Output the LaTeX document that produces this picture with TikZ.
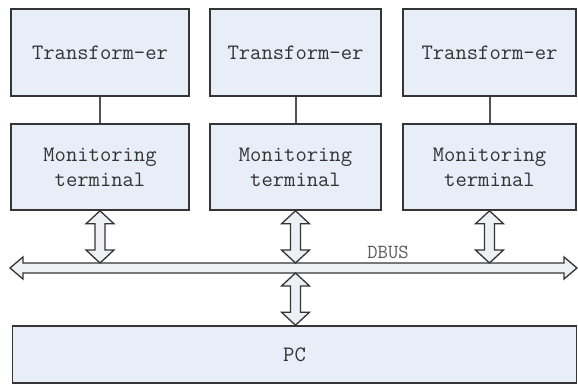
\documentclass[tikz,border=0pt]{standalone}
\usepackage{fontspec}
\usetikzlibrary{calc}
\definecolor{boxfill}{HTML}{E7EEF8}
\definecolor{boxline}{HTML}{353535}
\definecolor{txt}{HTML}{333333}
\definecolor{arrfill}{HTML}{EEF0F3}
\tikzset{
  blk/.style={draw=boxline, line width=1.6pt, fill=boxfill, inner sep=0pt,
    font=\ttfamily\fontsize{22}{25}\selectfont, text=txt, align=center},
  link/.style={draw=boxline!85, line width=2pt},
  arrowbox/.style={draw=boxline, line width=1.3pt, fill=arrfill, line join=miter},
  lbl/.style={font=\ttfamily\fontsize{20}{22}\selectfont, text=txt!80}
}
\newcommand\vdarrow[2]{%
  \path[arrowbox] let \p1=(#1), \p2=(#2) in
    (\x1,\y1) -- (\x1+14,\y1-13) -- (\x1+5,\y1-13) -- (\x1+5,\y2+13) -- (\x1+14,\y2+13)
    -- (\x1,\y2) -- (\x1-14,\y2+13) -- (\x1-5,\y2+13) -- (\x1-5,\y1-13) -- (\x1-14,\y1-13) -- cycle;}
\newcommand\hdarrow[2]{%
  \path[arrowbox] let \p1=(#1), \p2=(#2) in
    (\x1,\y1) -- (\x1+13,\y1+11) -- (\x1+13,\y1+5) -- (\x2-13,\y1+5) -- (\x2-13,\y1+11)
    -- (\x2,\y1) -- (\x2-13,\y1-11) -- (\x2-13,\y1-5) -- (\x1+13,\y1-5) -- (\x1+13,\y1-11) -- cycle;}
\begin{document}
\begin{tikzpicture}[x=1pt,y=-1pt]
\useasboundingbox[fill=white] (0,0) rectangle (578,385);
% transformers
\node[blk, minimum width=178pt, minimum height=87pt] (t1) at (100,52.5) {Transform-er};
\node[blk, minimum width=171pt, minimum height=87pt] (t2) at (295.5,52.5) {Transform-er};
\node[blk, minimum width=173pt, minimum height=87pt] (t3) at (489.5,52.5) {Transform-er};
% monitoring terminals
\node[blk, minimum width=178pt, minimum height=86pt] (m1) at (100,167) {Monitoring\\terminal};
\node[blk, minimum width=171pt, minimum height=86pt] (m2) at (295.5,167) {Monitoring\\terminal};
\node[blk, minimum width=173pt, minimum height=86pt] (m3) at (489.5,167) {Monitoring\\terminal};
% PC
\node[blk, minimum width=564pt, minimum height=57pt] (pc) at (294.5,354.5) {PC};
% links
\draw[link] (t1.south) -- (m1.north);
\draw[link] (t2.south) -- (m2.north);
\draw[link] (t3.south) -- (m3.north);
% bus
\coordinate (busL) at (10,268);
\coordinate (busR) at (577,268);
\coordinate (bt) at (0,263);
\coordinate (bb) at (0,273);
\hdarrow{busL}{busR}
\node[lbl] (dbus) at (388,252) {DBUS};
% double arrows
\vdarrow{m1.south}{m1.south |- bt}
\vdarrow{m2.south}{m2.south |- bt}
\vdarrow{m3.south}{m3.south |- bt}
\vdarrow{m2.south |- bb}{m2.south |- pc.north}
\end{tikzpicture}
\end{document}
